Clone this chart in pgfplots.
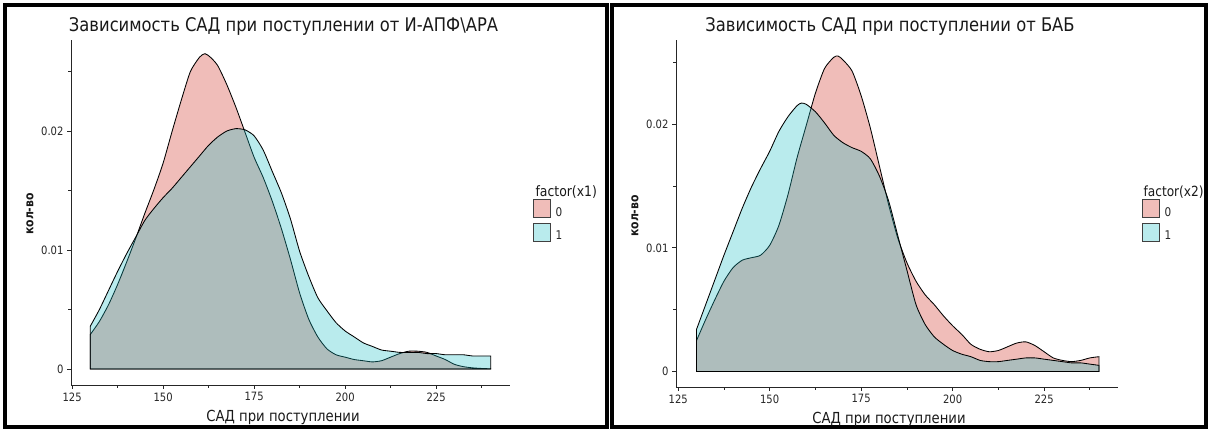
\documentclass[border=0pt]{standalone}
\usepackage{fontspec}
\setmainfont{DejaVu Sans}[FakeStretch=0.87]
\usepackage{pgfplots}
\usepackage{pgfplotstable}
\pgfplotsset{compat=1.18}
\definecolor{gpink}{RGB}{222,108,99}
\definecolor{gcyan}{RGB}{22,188,196}

% Left panel, factor(x1)=0
\pgfplotstableread{
x y
130 0.0029
132.5 0.0040
135 0.0054
137.5 0.0071
140 0.0090
142.5 0.0110
145 0.0131
147.5 0.0151
150 0.0173
152.5 0.0200
155 0.0226
157.5 0.0250
160 0.0262
161.5 0.0265
163 0.0262
165 0.0255
167.5 0.0239
170 0.0220
172.5 0.0199
175 0.0178
177.5 0.0161
180 0.0141
182.5 0.0118
185 0.0092
187.5 0.0064
190 0.0042
192.5 0.0027
195 0.0017
197.5 0.0012
200 0.0010
202.5 0.0008
205 0.0007
207.5 0.0006
210 0.0007
212.5 0.0010
215 0.0013
217.5 0.0015
220 0.0015
222.5 0.0014
225 0.0011
227.5 0.0008
230 0.0004
232.5 0.0002
235 0.0001
237.5 0.00005
240 0.00002
}\LeftZero

% Left panel, factor(x1)=1
\pgfplotstableread{
x y
130 0.0036
132.5 0.0050
135 0.0066
137.5 0.0082
140 0.0097
142.5 0.0111
145 0.0125
147.5 0.0135
150 0.0144
152.5 0.0152
155 0.0161
157.5 0.0170
160 0.0179
162.5 0.0188
165 0.0195
167.5 0.0200
170 0.0202
172.5 0.0201
175 0.0196
177.5 0.0184
180 0.0166
182.5 0.0148
185 0.0126
187.5 0.0099
190 0.0078
192.5 0.0060
195 0.0049
197.5 0.0039
200 0.0032
202.5 0.0027
205 0.0022
207.5 0.0019
210 0.0016
212.5 0.0015
215 0.0014
217.5 0.0014
220 0.0014
222.5 0.0013
225 0.0013
227.5 0.0012
230 0.0012
232.5 0.0012
235 0.0011
237.5 0.0011
240 0.0011
}\LeftOne

% Right panel, factor(x2)=0
\pgfplotstableread{
x y
130 0.0025
132.5 0.0042
135 0.0058
137.5 0.0073
140 0.0084
142.5 0.0090
145 0.0092
147.5 0.0094
150 0.0102
152.5 0.0118
155 0.0143
157.5 0.0173
160 0.0199
162.5 0.0225
165 0.0245
167.5 0.0254
168.7 0.0255
170 0.0252
172.5 0.0243
175 0.0223
177.5 0.0197
180 0.0166
182.5 0.0135
185 0.0108
187.5 0.0088
190 0.0073
192.5 0.0062
195 0.0054
197.5 0.0045
200 0.0037
202.5 0.0030
205 0.0022
207.5 0.0018
210 0.0016
212.5 0.0017
215 0.0020
217.5 0.0023
220 0.0024
222.5 0.0021
225 0.0016
227.5 0.0011
230 0.0009
232.5 0.0008
235 0.0009
237.5 0.0011
240 0.0012
}\RightZero

% Right panel, factor(x2)=1
\pgfplotstableread{
x y
130 0.0034
132.5 0.0054
135 0.0074
137.5 0.0094
140 0.0113
142.5 0.0132
145 0.0149
147.5 0.0164
150 0.0178
152.5 0.0194
155 0.0206
157.5 0.0215
158.7 0.0217
160 0.0216
162.5 0.0210
165 0.0201
167.5 0.0191
170 0.0185
172.5 0.0181
175 0.0178
177.5 0.0172
180 0.0158
182.5 0.0138
185 0.0110
187.5 0.0082
190 0.0054
192.5 0.0038
195 0.0028
197.5 0.0022
200 0.0017
202.5 0.0014
205 0.0012
207.5 0.0009
210 0.0008
212.5 0.0008
215 0.0009
217.5 0.0010
220 0.0011
222.5 0.0011
225 0.0010
227.5 0.0009
230 0.0008
232.5 0.0007
235 0.0007
237.5 0.0006
240 0.0005
}\RightOne

\newcommand{\legfont}{\fontsize{12}{13}\selectfont}

\pgfplotsset{
 densax/.style={
  scale only axis, axis lines=left,
  axis line style={-, line width=0.9pt, black!85},
  tick style={black!85, line width=0.7pt},
  tick align=outside, major tick length=4pt, minor tick length=3pt,
  xtick={125,150,175,200,225},
  minor xtick={137.5,162.5,187.5,212.5,237.5},
  ytick={0,0.01,0.02}, yticklabels={0,0.01,0.02},
  minor ytick={0.005,0.015,0.025},
  tick label style={font=\fontsize{11.5}{13}\selectfont, text=black!85},
  /pgf/number format/assume math mode=true,
  scaled y ticks=false,
  clip=false,
  legend cell align=left,
  legend style={draw=none, fill=none, inner sep=0pt, anchor=north west,
    text=black!85, row sep=5pt, nodes={inner sep=0pt}},
 },
 legend image code/.code={\draw[#1, line width=0.7pt, draw=black!75] (0pt,-5pt) rectangle (17pt,13pt);},
 pinkst/.style={fill=gpink, fill opacity=0.45, draw=black, line width=0.85pt, smooth, tension=0.4},
 cyanst/.style={fill=gcyan, fill opacity=0.3, draw=black, line width=0.85pt, smooth, tension=0.4},
}

\begin{document}
\begin{tikzpicture}
\useasboundingbox (0pt,0pt) rectangle (1209pt,430pt);
% panel frames
\draw[line width=3.5pt] (5pt,425pt) rectangle (607pt,3pt);
\draw[line width=3.5pt] (612pt,425pt) rectangle (1206pt,3pt);

% ---------- left panel ----------
\begin{axis}[densax, at={(71pt,45pt)}, anchor=south west,
  width=439pt, height=345pt,
  xmin=124.7, xmax=245.3, ymin=-0.00134, ymax=0.02765,
  legend style={at={(1.052,0.539)}},
  ]
\addplot[pinkst] table {\LeftZero} \closedcycle;
\addlegendentry{\legfont\hspace{5pt}0}
\addplot[cyanst] table {\LeftOne} \closedcycle;
\addlegendentry{\legfont\hspace{5pt}1}
\end{axis}
\node[anchor=base, font=\fontsize{18.8}{22}\selectfont, text=black!90] at (283.5pt,398.3pt) {Зависимость САД при поступлении от И-АПФ\textbackslash АРА};
\node[anchor=base, font=\fontsize{15.2}{17}\selectfont, text=black!90] at (283pt,8.3pt) {САД при поступлении};
\node[rotate=90, font=\bfseries\fontsize{12.5}{14}\selectfont, text=black!90] at (30pt,216pt) {кол-во};
\node[anchor=base west, font=\fontsize{14.3}{16}\selectfont, text=black!90] at (532pt,233.5pt) {factor(x1)};

% ---------- right panel ----------
\begin{axis}[densax, at={(676pt,43pt)}, anchor=south west,
  width=442pt, height=347pt,
  xmin=124.4, xmax=245.2, ymin=-0.00125, ymax=0.0268,
  legend style={at={(1.0536,0.5418)}},
  ]
\addplot[pinkst] table {\RightZero} \closedcycle;
\addlegendentry{\legfont\hspace{5pt}0}
\addplot[cyanst] table {\RightOne} \closedcycle;
\addlegendentry{\legfont\hspace{5pt}1}
\end{axis}
\node[anchor=base, font=\fontsize{18.8}{22}\selectfont, text=black!90] at (890pt,398.3pt) {Зависимость САД при поступлении от БАБ};
\node[anchor=base, font=\fontsize{15.2}{17}\selectfont, text=black!90] at (889pt,6.7pt) {САД при поступлении};
\node[rotate=90, font=\bfseries\fontsize{12.5}{14}\selectfont, text=black!90] at (635pt,214pt) {кол-во};
\node[anchor=base west, font=\fontsize{14}{16}\selectfont, text=black!90] at (1140pt,233.5pt) {factor(x2)};
\end{tikzpicture}
\end{document}
